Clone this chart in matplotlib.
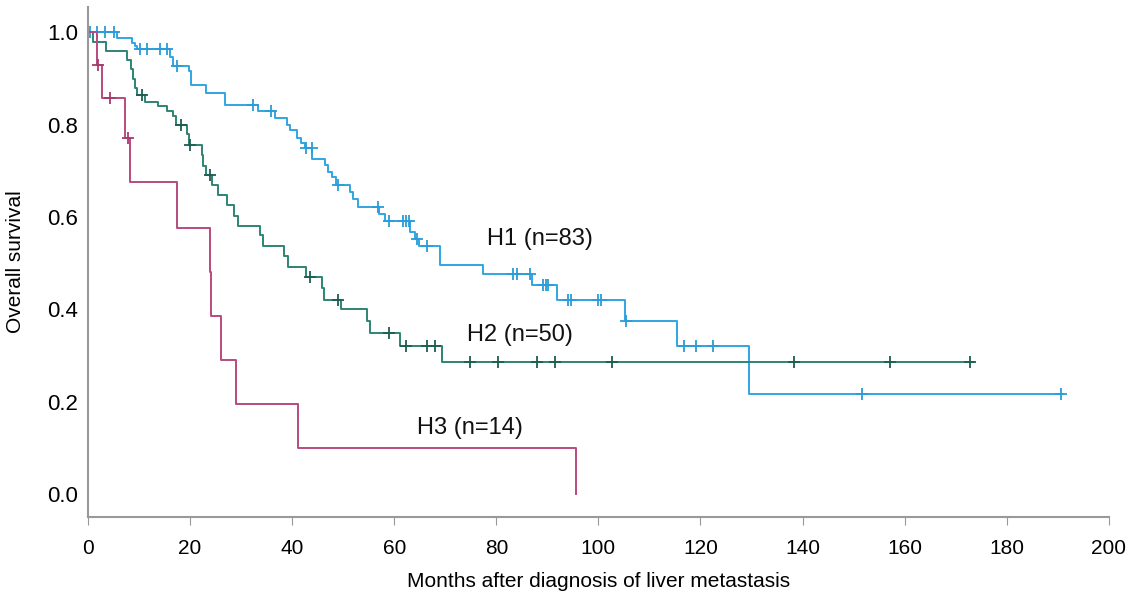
import numpy as np
import matplotlib
matplotlib.use("Agg")
import matplotlib.pyplot as plt

plt.rcParams["font.family"] = ["Liberation Sans", "DejaVu Sans"]

# H1 (n=83): event times (months) and survival after each step
h1_times = [5.6, 8.7, 9.2, 9.6, 16.1, 16.6, 19.7, 20.1, 23.2, 26.8, 33.4, 36.6, 39.0,
            39.6, 40.9, 41.8, 42.5, 43.9, 46.4, 47.0, 47.8, 48.6, 51.3, 51.9, 52.9,
            57.1, 58.2, 63.1, 64.0, 64.8, 68.9, 77.4, 86.9, 91.8, 105.2, 115.4, 129.5]
h1_surv = [0.988, 0.976, 0.970, 0.964, 0.946, 0.928, 0.916, 0.886, 0.869, 0.843, 0.829,
           0.814, 0.800, 0.789, 0.771, 0.760, 0.749, 0.726, 0.712, 0.698, 0.687, 0.669,
           0.654, 0.640, 0.622, 0.607, 0.592, 0.567, 0.552, 0.538, 0.496, 0.476, 0.452,
           0.421, 0.374, 0.321, 0.216]
h1_censor = [0.4, 1.7, 3.3, 5.0, 10.2, 11.5, 14.1, 15.4, 17.4, 32.4, 35.8, 42.8, 43.8,
             49.0, 56.9, 59.0, 61.8, 62.3, 62.8, 64.4, 66.5, 83.3, 84.0, 86.6, 89.2,
             89.7, 90.2, 94.1, 94.7, 100.0, 100.6, 105.4, 116.7, 119.1, 122.5, 151.7, 190.7]
h1_end = 191.0

# H2 (n=50)
h2_times = [0.9, 3.5, 7.6, 8.4, 8.9, 9.2, 9.6, 11.2, 13.8, 15.5, 16.7, 17.2, 19.4, 19.8,
            22.3, 22.6, 23.2, 24.2, 25.5, 27.2, 28.6, 29.3, 33.6, 34.3, 38.3, 39.2, 42.8,
            45.8, 46.2, 49.5, 54.6, 55.2, 61.1, 69.3]
h2_surv = [0.98, 0.96, 0.94, 0.92, 0.90, 0.88, 0.865, 0.85, 0.84, 0.83, 0.818, 0.80,
           0.78, 0.757, 0.734, 0.711, 0.69, 0.669, 0.647, 0.625, 0.603, 0.581, 0.56,
           0.538, 0.516, 0.491, 0.469, 0.447, 0.421, 0.40, 0.374, 0.349, 0.321, 0.285]
h2_censor = [10.5, 18.3, 20.0, 23.9, 43.4, 49.0, 59.0, 62.4, 66.5, 68.0, 74.8, 80.4,
             87.9, 91.5, 102.6, 138.4, 157.2, 172.9]
h2_end = 173.4

# H3 (n=14)
h3_times = [1.7, 2.7, 7.3, 8.2, 17.4, 23.8, 24.1, 26.0, 28.9, 41.1, 95.6]
h3_surv = [0.929, 0.857, 0.771, 0.675, 0.577, 0.481, 0.386, 0.290, 0.194, 0.099, 0.0]
h3_censor = [2.0, 4.4, 7.8]
h3_end = 95.6

groups = [
    ("H1 (n=83)", h1_times, h1_surv, h1_censor, h1_end, "#30A5E2", "#2A9CD8", (88.5, 0.552)),
    ("H2 (n=50)", h2_times, h2_surv, h2_censor, h2_end, "#2E8474", "#1E5E52", (84.6, 0.345)),
    ("H3 (n=14)", h3_times, h3_surv, h3_censor, h3_end, "#B84A80", "#A83A70", (74.8, 0.142)),
]


def step_value(times, surv, t):
    idx = np.searchsorted(times, t, side="right") - 1
    return 1.0 if idx < 0 else surv[idx]


fig = plt.figure(figsize=(11.36, 5.94), dpi=100)
ax = fig.add_axes([0.0775, 0.1296, 0.8985, 0.8586])

for label, times, surv, censor, end, color, mcolor, pos in groups:
    x = [0.0] + list(times)
    y = [1.0] + list(surv)
    if end > x[-1]:
        x.append(end)
        y.append(y[-1])
    ax.step(x, y, where="post", color=color, lw=1.4)
    cy = [step_value(np.array(times), surv, t) for t in censor]
    ax.plot(censor, cy, ls="none", marker="+", ms=8, mew=1.3, color=mcolor)
    ax.text(pos[0], pos[1], label, fontsize=17, ha="center", va="center", color="#111111")

ax.set_xlim(0, 200)
ax.set_ylim(-0.05, 1.055)
ax.set_xticks(np.arange(0, 201, 20))
ax.set_yticks([0.0, 0.2, 0.4, 0.6, 0.8, 1.0])
ax.set_yticklabels(["0.0", "0.2", "0.4", "0.6", "0.8", "1.0"])
ax.tick_params(axis="x", direction="out", length=6, color="#999999", labelsize=15, pad=10)
ax.tick_params(axis="y", length=0, labelsize=16, pad=7)
for side in ("top", "right"):
    ax.spines[side].set_visible(False)
for side in ("left", "bottom"):
    ax.spines[side].set_color("#999999")
    ax.spines[side].set_linewidth(1.5)

ax.set_xlabel("Months after diagnosis of liver metastasis", fontsize=15, labelpad=10)
ax.set_ylabel("Overall survival", fontsize=15, labelpad=16)

fig.savefig("out.png", dpi=100)
